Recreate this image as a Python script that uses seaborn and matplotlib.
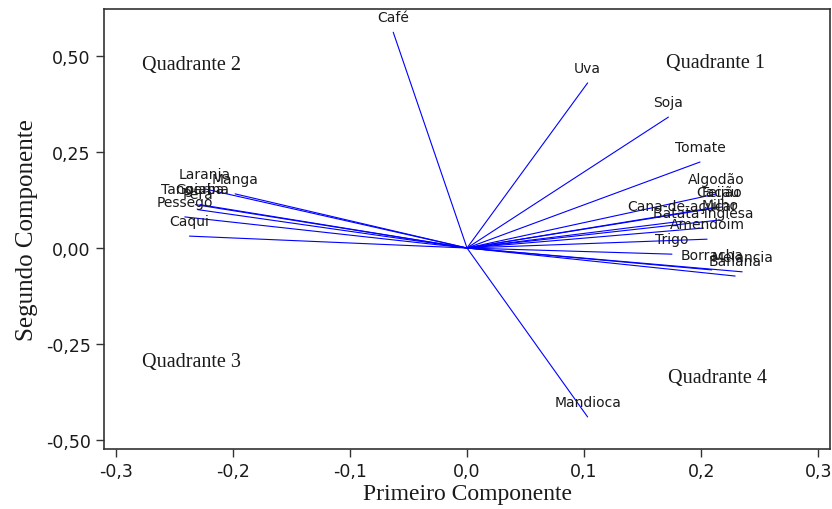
import matplotlib
matplotlib.use("Agg")
import matplotlib.pyplot as plt
import matplotlib.ticker as mticker
import pandas as pd
import seaborn as sns

# loadings (first, second component)
culturas = [
    "Café", "Uva", "Soja", "Tomate", "Algodão", "Cacau", "Feijão", "Milho",
    "Cana-de-açúcar", "Batata inglesa", "Amendoim", "Trigo", "Borracha",
    "Melancia", "Banana", "Mandioca",
    "Laranja", "Manga", "Tangerina", "Goiaba", "Pera", "Pessego", "Caqui",
]
comp1 = [
    -0.063, 0.103, 0.172, 0.199, 0.213, 0.214, 0.218, 0.216,
    0.184, 0.202, 0.205, 0.175, 0.209,
    0.235, 0.229, 0.103,
    -0.224, -0.198, -0.232, -0.228, -0.230, -0.241, -0.237,
]
comp2 = [
    0.562, 0.430, 0.341, 0.224, 0.141, 0.107, 0.107, 0.073,
    0.070, 0.052, 0.023, -0.016, -0.057,
    -0.062, -0.073, -0.440,
    0.154, 0.141, 0.113, 0.113, 0.100, 0.081, 0.031,
]

quadrantes = ["Quadrante 1", "Quadrante 2", "Quadrante 3", "Quadrante 4"]
quad_x = [0.212, -0.235, -0.235, 0.214]
quad_y = [0.482, 0.477, -0.295, -0.336]


def build_segments():
    rows = []
    for nome, x, y in zip(culturas, comp1, comp2):
        rows.append({"cultura": nome, "x": 0.0, "y": 0.0, "ordem": 0})
        rows.append({"cultura": nome, "x": x, "y": y, "ordem": 1})
    return pd.DataFrame(rows)


def plot_biplot():

    sns.set_style("ticks")

    fig = plt.figure(figsize=(8.32, 5.10), dpi=100)
    ax = fig.add_axes([0.125, 0.118, 0.8726, 0.862])

    df = build_segments()

    sns.lineplot(
        data=df,
        x="x",
        y="y",
        units="cultura",
        estimator=None,
        sort=False,
        color="#0000ff",
        linewidth=0.8,
        ax=ax
    )

    for nome, x, y in zip(culturas, comp1, comp2):
        ax.annotate(
            nome,
            (x, y),
            xytext=(0, 11),
            textcoords="offset points",
            ha="center",
            va="center",
            fontsize=10,
            family="DejaVu Sans",
            color="#1a1a1a"
        )

    for nome, x, y in zip(quadrantes, quad_x, quad_y):
        ax.text(
            x, y, nome,
            ha="center",
            va="center",
            fontsize=14.5,
            family="Liberation Serif",
            color="#1a1a1a"
        )

    ax.set_xlim(-0.310, 0.310)
    ax.set_ylim(-0.523, 0.622)

    ax.set_xticks([-0.3, -0.2, -0.1, 0.0, 0.1, 0.2, 0.3])
    ax.set_yticks([-0.5, -0.25, 0.0, 0.25, 0.5])

    ax.xaxis.set_major_formatter(
        mticker.FuncFormatter(lambda v, p: f"{v:.1f}".replace(".", ","))
    )
    ax.yaxis.set_major_formatter(
        mticker.FuncFormatter(lambda v, p: f"{v:.2f}".replace(".", ","))
    )

    for lab in ax.get_xticklabels() + ax.get_yticklabels():
        lab.set_family("DejaVu Sans")
        lab.set_fontsize(12.5)
        lab.set_color("#1a1a1a")

    ax.tick_params(direction="out", length=6, width=1, color="#333333")

    ax.set_xlabel("Primeiro Componente", family="Liberation Serif",
                  fontsize=17, color="#1a1a1a", labelpad=2)
    ax.set_ylabel("Segundo Componente", family="Liberation Serif",
                  fontsize=18, color="#1a1a1a", labelpad=6)

    for spine in ax.spines.values():
        spine.set_visible(True)
        spine.set_color("#333333")
        spine.set_linewidth(1.2)

    ax.grid(False)

    fig.savefig("out.png", dpi=100)
    plt.close(fig)


if __name__ == "__main__":
    plot_biplot()
